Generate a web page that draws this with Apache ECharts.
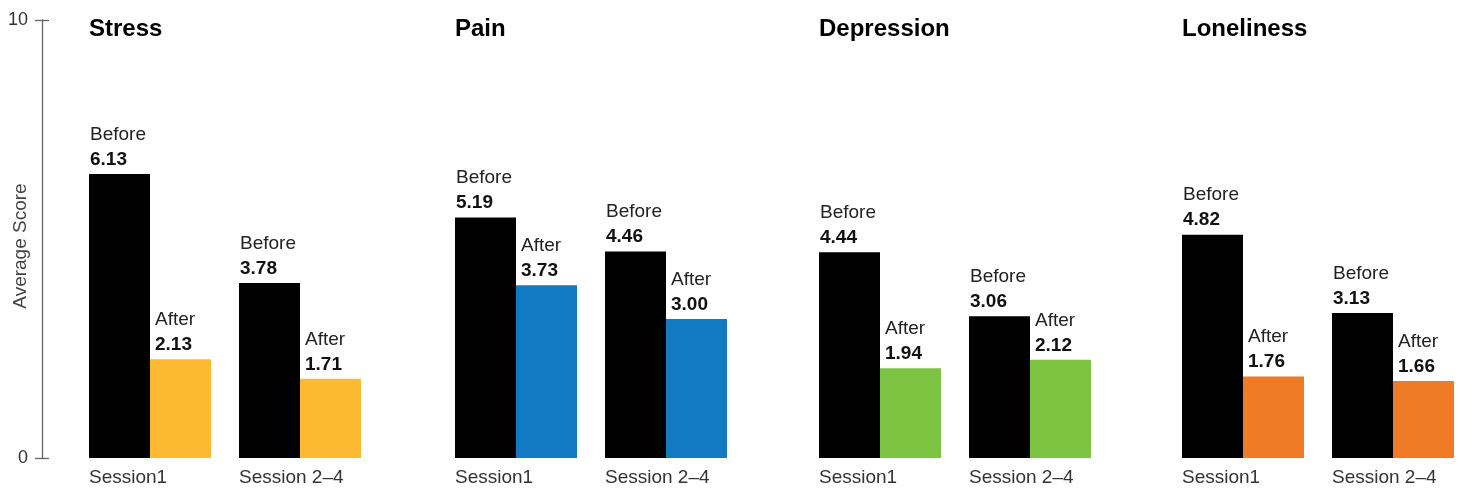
<!DOCTYPE html>
<html>
<head>
<meta charset="utf-8">
<script src="https://cdn.jsdelivr.net/npm/echarts@6/dist/echarts.min.js"></script>
<style>
html,body{margin:0;padding:0;background:#fff;}
#chart{width:1458px;height:492px;}
</style>
</head>
<body>
<div id="chart"></div>
<script>
// ---- Data ----
const categories = ['Session1', 'Session 2–4'];
const panelTitles = ['Stress', 'Pain', 'Depression', 'Loneliness'];
const stressBefore = [6.13, 3.78];
const stressAfter = [2.13, 1.71];
const painBefore = [5.19, 4.46];
const painAfter = [3.73, 3.00];
const depressionBefore = [4.44, 3.06];
const depressionAfter = [1.94, 2.12];
const lonelinessBefore = [4.82, 3.13];
const lonelinessAfter = [1.76, 1.66];
const yTickLabels = [0, 10];
const axisName = 'Average Score';
const beforeLabel = 'Before';
const afterLabel = 'After';

// ---- Styling / layout ----
const beforeData = [stressBefore, painBefore, depressionBefore, lonelinessBefore];
const afterData = [stressAfter, painAfter, depressionAfter, lonelinessAfter];
const afterColors = ['#FBBA31', '#1279C3', '#7DC443', '#F07B26'];
const panelLefts = [75, 441, 805, 1168];
const panelWidth = 300;
const FONT = '"Liberation Sans", Arial, sans-serif';

const grids = [], xAxes = [], yAxes = [], series = [], titles = [];

function barLabel(word, dx) {
  return {
    show: true,
    position: [dx, -2],
    align: 'left',
    verticalAlign: 'bottom',
    formatter: p => '{a|' + word + '}\n{b|' + p.value.toFixed(2) + '}',
    rich: {
      a: { fontFamily: FONT, fontSize: 19, color: '#222', lineHeight: 25 },
      b: { fontFamily: FONT, fontSize: 19, fontWeight: 'bold', color: '#111', lineHeight: 25 }
    }
  };
}

panelTitles.forEach((t, i) => {
  grids.push({ left: panelLefts[i], width: panelWidth, top: 18, bottom: 34, outerBoundsMode: 'none', containLabel: false });
  xAxes.push({
    gridIndex: i, type: 'category', data: categories,
    axisLine: { show: false }, axisTick: { show: false },
    axisLabel: {
      margin: 10, align: 'center',
      formatter: v => '{s|' + v + '}',
      rich: { s: { width: 122, align: 'left', fontFamily: FONT, fontSize: 19, color: '#333' } }
    }
  });
  yAxes.push({ gridIndex: i, type: 'value', min: 0, max: 9.5, show: false });
  series.push({
    type: 'bar', xAxisIndex: i, yAxisIndex: i, data: beforeData[i],
    barWidth: 61, barGap: '0%', itemStyle: { color: '#000' },
    label: barLabel(beforeLabel, 1), silent: true
  });
  series.push({
    type: 'bar', xAxisIndex: i, yAxisIndex: i, data: afterData[i],
    barWidth: 61, barGap: '0%', itemStyle: { color: afterColors[i] },
    label: barLabel(afterLabel, 5), silent: true
  });
  titles.push({
    text: t, left: panelLefts[i] + 14 - 5, top: 12,
    textStyle: { fontFamily: FONT, fontSize: 24, fontWeight: 'bold', color: '#000' }
  });
});

// Visible score axis
const axisGrid = grids.length;
grids.push({ left: 42, width: 1, top: 20, bottom: 34, outerBoundsMode: 'none', containLabel: false });
xAxes.push({ gridIndex: axisGrid, type: 'value', show: false });
const axisLineStyle = { color: '#666', width: 1.3 };
yAxes.push({
  gridIndex: axisGrid, type: 'value', min: yTickLabels[0], max: yTickLabels[yTickLabels.length - 1],
  interval: yTickLabels[1] - yTickLabels[0], position: 'left',
  splitLine: { show: false },
  axisLine: { show: true, lineStyle: axisLineStyle },
  axisTick: { show: true, inside: false, length: 7, lineStyle: axisLineStyle },
  axisLabel: { margin: 14, fontFamily: FONT, fontSize: 18, color: '#333' }
});
yAxes.push({
  gridIndex: axisGrid, type: 'value', min: yTickLabels[0], max: yTickLabels[yTickLabels.length - 1],
  interval: yTickLabels[1] - yTickLabels[0], position: 'left',
  splitLine: { show: false }, axisLine: { show: false },
  axisTick: { show: true, inside: true, length: 7, lineStyle: axisLineStyle },
  axisLabel: { show: false },
  name: axisName, nameLocation: 'middle', nameGap: 12, nameRotate: 90,
  nameTextStyle: { fontFamily: FONT, fontSize: 19, color: '#444', padding: [0, 14, 0, 0] }
});

const chart = echarts.init(document.getElementById('chart'));
chart.setOption({
  animation: false,
  backgroundColor: '#fff',
  title: titles,
  grid: grids,
  xAxis: xAxes,
  yAxis: yAxes,
  series: series
});
</script>
</body>
</html>
